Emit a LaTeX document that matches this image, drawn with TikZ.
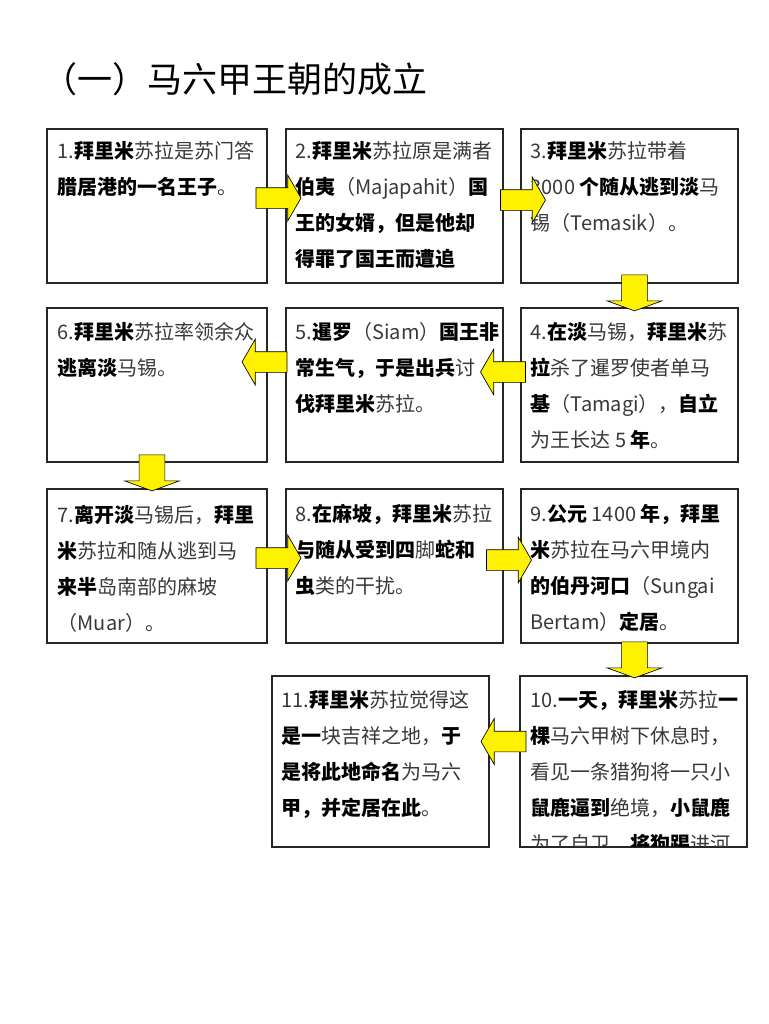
\documentclass[tikz,border=0pt]{standalone}
\usepackage{fontspec}
\setmainfont{Noto Sans CJK SC}
\usetikzlibrary{shapes.arrows, calc}
\definecolor{plaintext}{HTML}{383838}
\newcommand*{\kw}[1]{\textbf{\color{black}#1}}

\begin{document}
\begin{tikzpicture}[x=0.75pt,y=-0.75pt,
        box/.style={draw=black!85, line width=0.8pt, rectangle, inner sep=0pt, minimum width=162.75pt, minimum height=115.5pt},
        widebox/.style={box, minimum width=165pt},
        tallbox/.style={box, minimum height=128.25pt},
        txt/.style={anchor=north west, inner sep=0pt, align=left, text=plaintext, font=\fontsize{15}{27}\selectfont},
        blockarrow/.style={single arrow, draw=black, fill=yellow, line width=0.5pt, inner sep=7.5pt,
          single arrow head extend=9.5pt, single arrow tip angle=120, minimum height=33.75pt, minimum width=0pt},
        rarrow/.style={blockarrow},
        larrow/.style={blockarrow, rotate=180},
        darrow/.style={blockarrow, rotate=270, inner sep=9.4pt, single arrow head extend=10.9pt,
          single arrow tip angle=140, minimum height=27pt},
        ]
        \useasboundingbox (0,0) rectangle (768,1024);

        \node[anchor=west, inner sep=0pt, font=\fontsize{26.25}{30}\selectfont] (title) at (42,79) {（一）马六甲王朝的成立};

        % boxes
        \node[widebox] (b1) at (157,206) {};
        \node[box] (b2) at (394.5,206) {};
        \node[box] (b3) at (629.5,206) {};
        \node[widebox] (b6) at (157,385) {};
        \node[box] (b5) at (394.5,385) {};
        \node[box] (b4) at (629.5,385) {};
        \node[widebox] (b7) at (157,566) {};
        \node[box] (b8) at (394.5,566) {};
        \node[box] (b9) at (629.5,566) {};
        \node[tallbox] (b11) at (380.5,761.5) {};
        \node[tallbox, minimum width=170.25pt] (b10) at (633.5,761.5) {};

        % texts
        \node[txt] (t1) at ($(b1.north west)+(11,13)$) {1.\kw{拜里米}苏拉是苏门答\\\kw{腊居港的一名王子}。};
        \node[txt] (t2) at ($(b2.north west)+(10,13)$) {2.\kw{拜里米}苏拉原是满者\\\kw{伯夷}（Majapahit）\kw{国}\\\kw{王的女婿，但是他却}\\\kw{得罪了国王而遭追}};
        \node[txt] (t3) at ($(b3.north west)+(10,13)$) {3.\kw{拜里米}苏拉带着\\3000 \kw{个随从逃到淡}马\\锡（Temasik）。};
        \node[txt] (t4) at ($(b4.north west)+(10,15)$) {4.\kw{在淡}马锡，\kw{拜里米}苏\\\kw{拉}杀了暹罗使者单马\\\kw{基}（Tamagi），\kw{自立}\\为王长达 5 \kw{年}。};
        \node[txt] (t5) at ($(b5.north west)+(10,15)$) {5.\kw{暹罗}（Siam）\kw{国王非}\\\kw{常生气，于是出兵}讨\\\kw{伐拜里米}苏拉。};
        \node[txt] (t6) at ($(b6.north west)+(11,15)$) {6.\kw{拜里米}苏拉率领余众\\\kw{逃离淡}马锡。};
        \node[txt] (t7) at ($(b7.north west)+(11,16)$) {7.\kw{离开淡}马锡后，\kw{拜里}\\\kw{米}苏拉和随从逃到马\\\kw{来半}岛南部的麻坡\\（Muar）。};
        \node[txt] (t8) at ($(b8.north west)+(10,16)$) {8.\kw{在麻坡，拜里米}苏拉\\\kw{与随从受到四}脚\kw{蛇和}\\\kw{虫}类的干扰。};
        \node[txt] (t9) at ($(b9.north west)+(10,16)$) {9.\kw{公元} 1400 \kw{年，拜里}\\\kw{米}苏拉在马六甲境内\\\kw{的伯丹河口}（Sungai\\Bertam）\kw{定居}。};
        \node[txt] (t11) at ($(b11.north west)+(10,15)$) {11.\kw{拜里米}苏拉觉得这\\\kw{是一}块吉祥之地，\kw{于}\\\kw{是将此地命名}为马六\\\kw{甲，并定居在此}。};
        \begin{scope}
          \clip ($(b10.north west)+(1,1)$) rectangle ($(b10.south east)+(-1,-1)$);
          \node[txt] (t10) at ($(b10.north west)+(11,15)$) {10.\kw{一天，拜里米}苏拉\kw{一}\\\kw{棵}马六甲树下休息时，\\看见一条猎狗将一只小\\\kw{鼠鹿逼到}绝境，\kw{小鼠鹿}\\为了自卫，\kw{将狗踢}进河};
        \end{scope}

        % arrows
        \node[rarrow] (a12) at ($(b1.east)!.5!(b2.west)+(-1,-8)$) {};
        \node[rarrow] (a23) at ($(b2.east)!.5!(b3.west)+(8,-6)$) {};
        \node[darrow] (a34) at ($(b3.south)!.5!(b4.north)+(5,-5)$) {};
        \node[larrow] (a45) at ($(b4.west)!.5!(b5.east)+(-6,-13)$) {};
        \node[larrow] (a56) at ($(b5.west)!.5!(b6.east)+(-9,-23)$) {};
        \node[darrow] (a67) at ($(b6.south)!.5!(b7.north)+(-5,-5)$) {};
        \node[rarrow] (a78) at ($(b7.east)!.5!(b8.west)+(-1,-8)$) {};
        \node[rarrow] (a89) at ($(b8.east)!.5!(b9.west)+(-6,-6)$) {};
        \node[darrow] (a910) at ($(b9.south)!.5!(b10.north)+(3,-2)$) {};
        \node[larrow] (a1011) at ($(b10.west)!.5!(b11.east)+(2,-20)$) {};
\end{tikzpicture}
\end{document}
